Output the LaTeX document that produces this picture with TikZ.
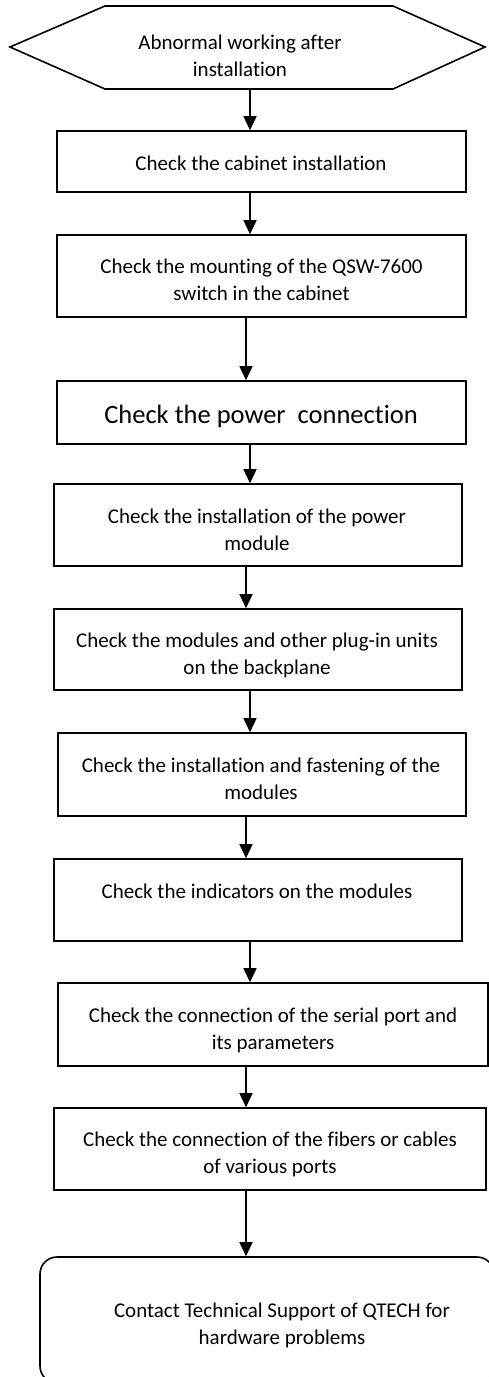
\documentclass[tikz,border=0pt]{standalone}
\usepackage{fontspec}
\setmainfont[Ligatures=NoCommon, RawFeature={-liga;-clig;-calt;-dlig}]{Carlito}
\usetikzlibrary{arrows.meta}
\tikzset{
  box/.style={draw, line width=1.6pt, inner sep=0pt, rectangle},
  txt/.style={align=center, inner sep=0pt, font=\fontsize{21}{27}\selectfont},
  arr/.style={line width=1.6pt, -{Triangle[width=13pt,length=14pt]}},
}
\begin{document}
\begin{tikzpicture}[x=1pt,y=-1pt]
\useasboundingbox (0,0) rectangle (489,1377);
% start hexagon
\draw[line width=1.6pt, line join=miter] (10,47) -- (105,6) -- (393,6) -- (485,47) -- (393,89) -- (105,89) -- cycle;
\node[txt] (t0) at (240,56) {Abnormal working after\\installation};
\coordinate (hexbot) at (250,89);
% boxes (center x, center y, width, height)
\node[box, minimum width=409, minimum height=61] (b1) at (261.5,161.5) {};
\node[box, minimum width=409, minimum height=82] (b2) at (261.5,276) {};
\node[box, minimum width=409, minimum height=63] (b3) at (261.5,412.5) {};
\node[box, minimum width=408, minimum height=82] (b4) at (258,525) {};
\node[box, minimum width=408, minimum height=81] (b5) at (258,649.5) {};
\node[box, minimum width=408, minimum height=83] (b6) at (262,774.5) {};
\node[box, minimum width=408, minimum height=82] (b7) at (258,900) {};
\node[box, minimum width=430, minimum height=83] (b8) at (273,1024.5) {};
\node[box, minimum width=432, minimum height=82] (b9) at (270,1149) {};
\node[box, rounded corners=17pt, minimum width=454, minimum height=126] (b10) at (267,1320) {};
% texts
\node[txt] (t1) at (261,163) {Check the cabinet installation};
\node[txt] (t2) at (261.5,280) {Check the mounting of the QSW-7600\\switch in the cabinet};
\node[txt, font=\fontsize{26.5}{32}\selectfont] (t3) at (261,416) {Check the power\ \ connection};
\node[txt] (t4) at (257,530) {Check the installation of the power\\module};
\node[txt] (t5) at (257,655) {Check the modules and other plug-in units\\on the backplane};
\node[txt] (t6) at (261,779) {Check the installation and fastening of the\\modules};
\node[txt] (t7) at (257,891) {Check the indicators on the modules};
\node[txt] (t8) at (273,1030) {Check the connection of the serial port and\\its parameters};
\node[txt] (t9) at (270,1154) {Check the connection of the fibers or cables\\of various ports};
\node[txt] (t10) at (282,1325) {Contact Technical Support of QTECH for\\hardware problems};
% connectors
\draw[arr] (hexbot) -- (b1.north -| hexbot);
\draw[arr] (b1.south -| 250,0) -- (b2.north -| 250,0);
\draw[arr] (b2.south -| 246,0) -- (b3.north -| 246,0);
\draw[arr] (b3.south -| 250,0) -- (b4.north -| 250,0);
\draw[arr] (b4.south -| 246,0) -- (b5.north -| 246,0);
\draw[arr] (b5.south -| 250,0) -- (b6.north -| 250,0);
\draw[arr] (b6.south -| 246,0) -- (b7.north -| 246,0);
\draw[arr] (b7.south -| 250,0) -- (b8.north -| 250,0);
\draw[arr] (b8.south -| 246,0) -- (b9.north -| 246,0);
\draw[arr] (b9.south -| 246,0) -- (b10.north -| 246,0);
\end{tikzpicture}
\end{document}
